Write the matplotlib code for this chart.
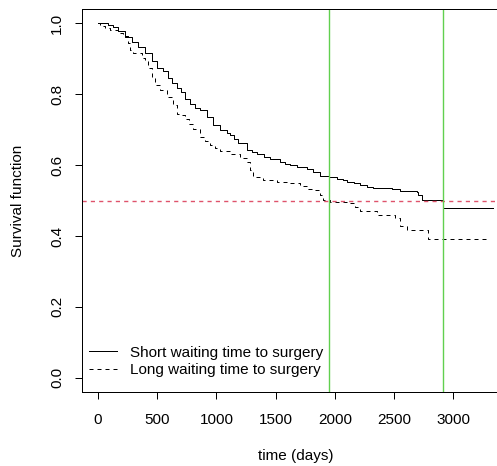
import matplotlib
matplotlib.use("Agg")
import matplotlib.pyplot as plt

plt.rcParams['font.family'] = ['Liberation Sans', 'DejaVu Sans']

# Kaplan-Meier estimates (time in days, survival)
short_time = [0, 84, 127, 169, 228, 285, 341, 397, 454, 496, 552, 594, 622, 665,
              700, 735, 777, 820, 861, 918, 974, 1030, 1090, 1115, 1150, 1185,
              1256, 1300, 1340, 1400, 1453, 1537, 1580, 1622, 1681, 1765, 1820,
              1875, 1951, 2020, 2069, 2103, 2160, 2213, 2270, 2323, 2483, 2550,
              2694, 2705, 2736, 2914, 3336]
short_surv = [1.0, 0.995, 0.988, 0.977, 0.962, 0.948, 0.934, 0.915, 0.892, 0.873,
              0.864, 0.845, 0.831, 0.817, 0.805, 0.785, 0.772, 0.762, 0.755,
              0.736, 0.713, 0.699, 0.69, 0.685, 0.673, 0.661, 0.643, 0.636,
              0.631, 0.622, 0.616, 0.609, 0.604, 0.6, 0.594, 0.589, 0.58, 0.569,
              0.566, 0.562, 0.558, 0.552, 0.548, 0.544, 0.539, 0.535, 0.533,
              0.527, 0.524, 0.515, 0.501, 0.479, 0.479]

long_time = [0, 17, 59, 101, 169, 211, 253, 270, 296, 369, 397, 422, 454, 481,
             524, 580, 636, 665, 700, 735, 770, 805, 861, 900, 946, 990, 1030,
             1115, 1199, 1256, 1284, 1312, 1397, 1509, 1607, 1706, 1774, 1816,
             1875, 1900, 1959, 2103, 2171, 2213, 2357, 2508, 2550, 2610, 2787,
             3311]
long_surv = [1.0, 0.993, 0.986, 0.981, 0.972, 0.963, 0.944, 0.925, 0.915, 0.901,
             0.897, 0.873, 0.845, 0.826, 0.812, 0.793, 0.77, 0.745, 0.74, 0.729,
             0.716, 0.703, 0.68, 0.668, 0.656, 0.648, 0.64, 0.631, 0.619, 0.609,
             0.586, 0.567, 0.558, 0.553, 0.548, 0.541, 0.532, 0.53, 0.515, 0.501,
             0.496, 0.493, 0.482, 0.47, 0.459, 0.45, 0.428, 0.417, 0.392, 0.392]

median_times = [1951, 2914]
half = 0.5

fs = 11
lw = 0.72

fig = plt.figure(figsize=(4.97, 4.66), dpi=100)
ax = fig.add_axes([82.3 / 497, 74 / 466, 426.4 / 497, 383 / 466])

ax.plot(short_time, short_surv, drawstyle='steps-post', color='black', lw=lw,
        label='Short waiting time to surgery')
ax.plot(long_time, long_surv, drawstyle='steps-post', color='black', lw=lw,
        dashes=(4, 4), label='Long waiting time to surgery')

ax.axhline(half, color='#DF536B', lw=1.0, dashes=(3, 3))
for t in median_times:
    ax.axvline(t, color='#61D04F', lw=1.0)

ax.set_xlim(-133.4, 3469.4)
ax.set_ylim(-0.04, 1.04)
ax.set_xticks([0, 500, 1000, 1500, 2000, 2500, 3000])
ax.set_yticks([0.0, 0.2, 0.4, 0.6, 0.8, 1.0])
ax.set_yticklabels(['0.0', '0.2', '0.4', '0.6', '0.8', '1.0'], rotation=90, va='center')
ax.tick_params(axis='x', length=5.2, width=lw, labelsize=fs, pad=9.8)
ax.tick_params(axis='y', length=5.2, width=lw, labelsize=fs, pad=8)
for s in ax.spines.values():
    s.set_linewidth(lw)

fig.text(295.5 / 497, 1 - 456 / 466, 'time (days)', ha='center', va='center', fontsize=fs)
fig.text(18 / 497, 1 - 200.5 / 466, 'Survival function', ha='center', va='center',
         rotation=90, fontsize=fs)

ax.legend(loc='lower left', bbox_to_anchor=(0.0157, 0.039), frameon=False,
          fontsize=fs, handlelength=1.83, handletextpad=0.85, labelspacing=0.23,
          borderpad=0, borderaxespad=0)

fig.savefig('out.png', dpi=100)
